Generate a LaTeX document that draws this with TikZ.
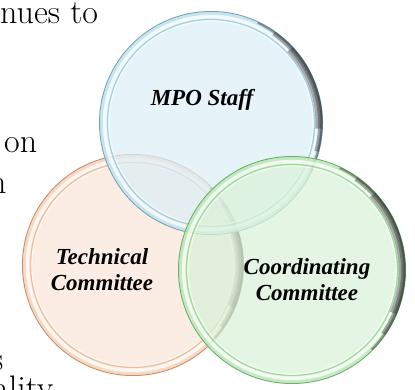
\documentclass[tikz,border=0pt]{standalone}
\usepackage{fontspec}
\newfontfamily\lblfont{Liberation Serif}
\usetikzlibrary{calc}
\definecolor{mpoblue}{RGB}{110,185,212}
\definecolor{techorange}{RGB}{232,150,95}
\definecolor{coordgreen}{RGB}{100,200,95}
\newcommand\glassdisc[3]{% name, radius, colour
  \fill[#3!24, fill opacity=0.72] (#1) circle[radius=#2];
  \draw[#3!80!black, line width=1, opacity=0.8] (#1) circle[radius=#2-0.5];
  \draw[#3!50, line width=3, opacity=0.6] (#1) circle[radius=#2-2.5];
  \draw[white, line width=3.5, opacity=0.6] (#1) circle[radius=#2-5.5];
  \draw[#3!75, line width=1.3, opacity=0.8] (#1) circle[radius=#2-8.5];
  \draw[white, line width=1.2, opacity=0.6] (#1) circle[radius=#2-10];
}
\newcommand\discshadow[4]{% name, radius, start, end
  \foreach \ww/\ss/\oo in {2/0/0.45, 4.5/10/0.4, 7/22/0.4}{
    \draw[black!80, line width=\ww, opacity=\oo]
      ($(#1)+(#3-\ss:#2-0.5-\ww/2)$) arc[start angle=#3-\ss, end angle=#4+\ss, radius=#2-0.5-\ww/2];
  }
}
\tikzset{
  bodytext/.style={anchor=base west, inner sep=0, font=\fontsize{34}{40}\selectfont},
  lbl/.style={font=\lblfont\bfseries\itshape\fontsize{23}{26}\selectfont, align=center, inner sep=0}
}
\begin{document}
\begin{tikzpicture}[x=1pt,y=1pt]
\useasboundingbox (0,0) rectangle (415,-389);
% body text fragments
\node[bodytext] (t1) at (0,-23) {nues to};
\node[bodytext] (t2) at (4,-152) {on};
\node[bodytext] (t3) at (-11,-193) {n};
\node[bodytext] (t4) at (-9,-370) {s};
\node[bodytext] (t5) at (-7,-399) {ality};
% discs
\coordinate (tech) at (133,-265);
\coordinate (mpo) at (211,-123);
\coordinate (coord) at (292,-270);
\glassdisc{tech}{111}{techorange}
\discshadow{tech}{111}{45}{-45}
\glassdisc{mpo}{112}{mpoblue}
\discshadow{mpo}{112}{65}{-25}
\glassdisc{coord}{114}{coordgreen}
\discshadow{coord}{114}{65}{-45}
% labels
\node[lbl, anchor=base] (mpolabel) at (202,-105) {MPO Staff};
\node[lbl] (techlabel) at (102,-270) {Technical\\Committee};
\node[lbl] (coordlabel) at (307,-280) {Coordinating\\Committee};
\end{tikzpicture}
\end{document}
